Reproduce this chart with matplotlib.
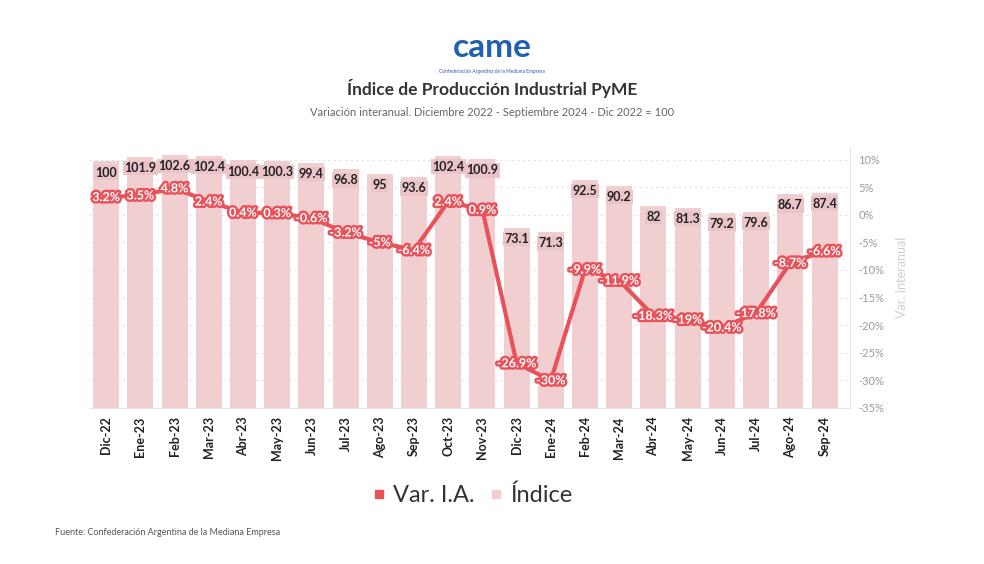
#! /usr/bin/env python3
# Indice de Produccion Industrial PyME - CAME

import matplotlib.pyplot as plt
import matplotlib.patheffects as pe
from matplotlib.lines import Line2D

plt.rcParams['font.family'] = ['Lato', 'DejaVu Sans']

meses = ['Dic-22', 'Ene-23', 'Feb-23', 'Mar-23', 'Abr-23', 'May-23', 'Jun-23',
         'Jul-23', 'Ago-23', 'Sep-23', 'Oct-23', 'Nov-23', 'Dic-23', 'Ene-24',
         'Feb-24', 'Mar-24', 'Abr-24', 'May-24', 'Jun-24', 'Jul-24', 'Ago-24',
         'Sep-24']
indice = [100, 101.9, 102.6, 102.4, 100.4, 100.3, 99.4, 96.8, 95, 93.6, 102.4,
          100.9, 73.1, 71.3, 92.5, 90.2, 82, 81.3, 79.2, 79.6, 86.7, 87.4]
var_ia = [3.2, 3.5, 4.8, 2.4, 0.4, 0.3, -0.6, -3.2, -5, -6.4, 2.4, 0.9, -26.9,
          -30, -9.9, -11.9, -18.3, -19, -20.4, -17.8, -8.7, -6.6]
pct_ticks = [10, 5, 0, -5, -10, -15, -20, -25, -30, -35]

rojo = '#e8525a'
rosa = '#f1cfd1'


def fmt(v):
    return ('%g' % v)


fig = plt.figure(figsize=(9.84, 5.64), dpi=100)
rect = [0.0905, 0.2766, 0.7735, 0.462]

# percent axis (grid + right ticks)
ax = fig.add_axes(rect)
axb = ax.twinx()   # bars
axl = ax.twinx()   # line

ax.set_ylim(-35, 12.2)
ax.set_xlim(-0.5, 21.75)
ax.yaxis.tick_right()
ax.yaxis.set_label_position('right')
ax.set_yticks(pct_ticks)
ax.set_yticklabels([fmt(t) + '%' for t in pct_ticks], color='#9a9a9a', fontsize=8)
ax.tick_params(axis='y', length=0, pad=6, left=False, labelleft=False,
               right=False, labelright=True)
ax.grid(axis='y', color='#e2e2e2', linestyle=(0, (2, 3)), linewidth=0.8)
ax.set_ylabel('Var. Interanual', color='#cfcfcf', fontsize=9, labelpad=8)
ax.set_xticks(range(len(meses)))
ax.set_xticklabels(meses, rotation=90, fontsize=9, fontweight='bold', color='#222222')
ax.tick_params(axis='x', length=0, pad=6)
for s in ['top', 'left']:
    ax.spines[s].set_visible(False)
ax.spines['right'].set_color('#e6e6e6')
ax.spines['bottom'].set_color('#e6e6e6')

# bars
axb.set_ylim(0, 105.7)
axb.set_xlim(-0.5, 21.75)
axb.bar(range(len(indice)), indice, width=0.76, color=rosa)
axb.axis('off')
for i, v in enumerate(indice):
    axb.annotate(fmt(v), (i, v), xytext=(0, -8), textcoords='offset points',
                 ha='center', va='center', fontsize=9, fontweight='bold',
                 color='#222222',
                 bbox=dict(boxstyle='square,pad=0.1', fc='#ebc4c7', ec='none'))

# line
axl.set_ylim(-35, 12.2)
axl.set_xlim(-0.5, 21.75)
axl.axis('off')
axl.plot(range(len(var_ia)), var_ia, color=rojo, linewidth=3, solid_joinstyle='round')
for i, v in enumerate(var_ia):
    axl.text(i, v, fmt(v) + '%', ha='center', va='center', fontsize=9,
             fontweight='bold', color='white',
             path_effects=[pe.withStroke(linewidth=3.5, foreground=rojo)])

# title block
fig.text(0.5, 0.915, 'came', ha='center', va='center', fontsize=24,
         fontweight='bold', color='#1f5fb4')
fig.text(0.5, 0.873, 'Confederación Argentina de la Mediana Empresa', ha='center',
         va='center', fontsize=3.5, color='#1f5fb4')
fig.text(0.5, 0.843, 'Índice de Producción Industrial PyME', ha='center',
         va='center', fontsize=12.5, fontweight='bold', color='#333333')
fig.text(0.5, 0.801, 'Variación interanual. Diciembre 2022 - Septiembre 2024 - Dic 2022 = 100',
         ha='center', va='center', fontsize=8, color='#666666')

# legend
handles = [Line2D([], [], marker='s', linestyle='none', color=rojo, markersize=6),
           Line2D([], [], marker='s', linestyle='none', color=rosa, markersize=6)]
fig.legend(handles, ['Var. I.A.', 'Índice'], loc='center', bbox_to_anchor=(0.48, 0.122),
           ncol=2, frameon=False, fontsize=17, handlelength=0.6, handletextpad=0.3,
           columnspacing=0.6, labelcolor='#333333')

fig.text(0.056, 0.055, 'Fuente: Confederación Argentina de la Mediana Empresa',
         fontsize=6.5, color='#555555', va='center')

fig.savefig('out.png', dpi=100, facecolor='white')
